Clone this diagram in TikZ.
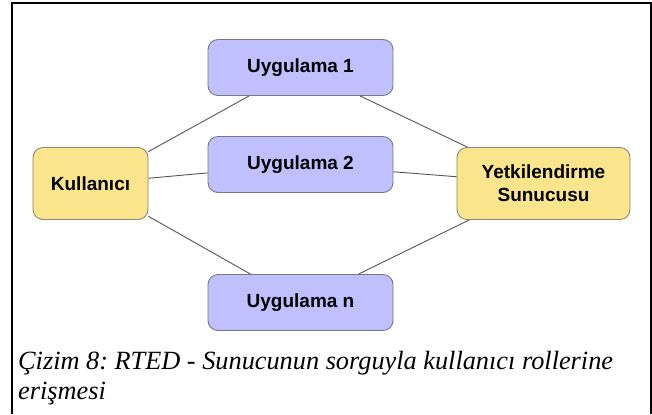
\documentclass[tikz,border=0pt]{standalone}
\usepackage{fontspec}
\setmainfont{Liberation Serif}
\newfontfamily\boxfont{Liberation Sans}
\definecolor{appfill}{RGB}{192,192,255}
\definecolor{appdraw}{RGB}{120,120,130}
\definecolor{usrfill}{RGB}{250,229,140}
\definecolor{usrdraw}{RGB}{140,135,110}
\definecolor{linkcol}{RGB}{85,85,85}
\begin{document}
\frenchspacing
\begin{tikzpicture}[x=1bp,y=-1bp,
  appbox/.style={draw=appdraw,fill=appfill,line width=0.9bp,rounded corners=10bp,
    minimum width=185bp,minimum height=56bp,inner sep=0pt,
    font=\boxfont\bfseries\fontsize{19bp}{23bp}\selectfont,align=center},
  usrbox/.style={draw=usrdraw,fill=usrfill,line width=0.9bp,rounded corners=10bp,
    minimum height=72bp,inner sep=0pt,
    font=\boxfont\bfseries\fontsize{19bp}{23bp}\selectfont,align=center},
  link/.style={draw=linkcol,line width=0.9bp},
  captext/.style={font=\itshape\fontsize{26.3bp}{30bp}\selectfont,anchor=base west,inner sep=0pt}]
\useasboundingbox (0,0) rectangle (652,414);
\draw[line width=1.5bp] (12,414) -- (12,3) -- (651,3) -- (651,414);
\node[appbox] (u1) at (300.5,67.5) {Uygulama 1};
\node[appbox] (u2) at (300.5,164.5) {Uygulama 2};
\node[appbox] (un) at (300.5,302.5) {Uygulama n};
\node[usrbox,minimum width=115bp] (k) at (90.5,183.5) {Kullanıcı};
\node[usrbox,minimum width=173bp] (y) at (543.5,183.5) {Yetkilendirme\\Sunucusu};
\draw[link] (k) -- (u1);
\draw[link] (k) -- (u2);
\draw[link] (k) -- (un);
\draw[link] (u1) -- (y);
\draw[link] (u2) -- (y);
\draw[link] (un) -- (y);
\node[captext] (cap1) at (18,369) {Çizim 8: RTED - Sunucunun sorguyla kullanıcı rollerine};
\node[captext] (cap2) at (18,399) {erişmesi};
\end{tikzpicture}
\end{document}
